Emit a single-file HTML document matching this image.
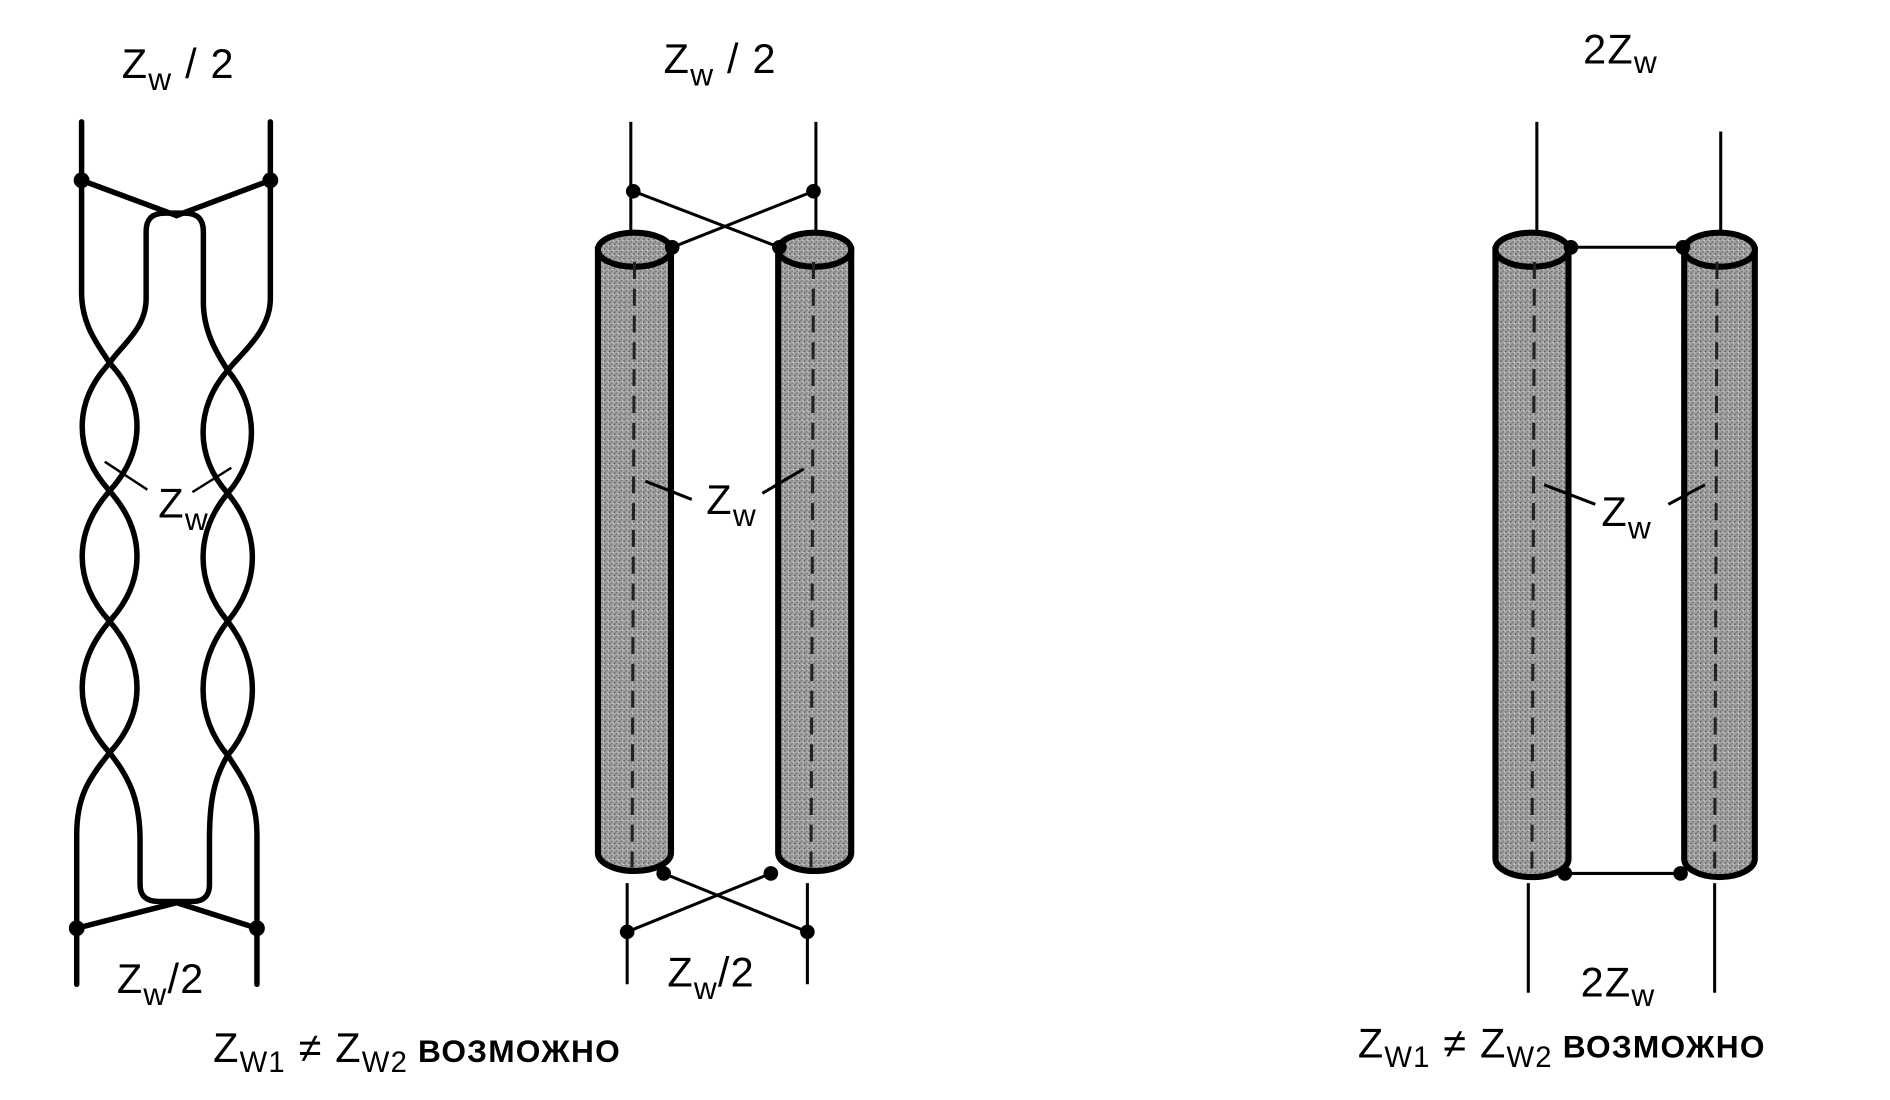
<!DOCTYPE html>
<html><head><meta charset="utf-8"><style>html,body{margin:0;padding:0;background:#fff;width:1890px;height:1100px;overflow:hidden}svg{display:block}</style></head>
<body>
<svg width="1890" height="1100" viewBox="0 0 1552 903" preserveAspectRatio="none" xmlns="http://www.w3.org/2000/svg" font-family="Liberation Sans, DejaVu Sans, sans-serif">
<defs>
<pattern id="st" width="4" height="4" patternUnits="userSpaceOnUse"><rect width="4" height="4" fill="#a2a2a2"/><rect x="0" y="0" width="1" height="1" fill="#444"/><rect x="2" y="2" width="1" height="1" fill="#666"/><rect x="3" y="1" width="1" height="1" fill="#ddd"/><rect x="1" y="3" width="1" height="1" fill="#777"/></pattern>
</defs>
<g fill="none" stroke="#000" stroke-width="4.5" stroke-linecap="round" stroke-linejoin="round">
<path d="M67,100 L67,240 C67,268 82,285 90,298 C120,330 120,370 90,403 C60,437 60,477 90,510 C120,545 120,585 90,618 C72,640 63,655 63,685 L63,808"/>
<path d="M90,298 C100,283 120,270 120,245 L120,190 Q120,175 135,175 L152,175 Q167,175 167,190 L167,248 C167,272 178,290 187,304 C213,335 213,375 187,405 C160,437 160,478 187,510 C214,545 214,588 187,620 C175,640 172,660 172,690 L172,726 Q172,740 158,740 L130,740 Q115,740 115,726 L115,690 C115,660 108,640 90,618 C60,585 60,545 90,510 C120,477 120,437 90,403 C60,370 60,330 90,298"/>
<path d="M222,100 L222,245 C222,272 198,290 187,304 C160,335 160,375 187,405 C214,437 214,478 187,510 C160,545 160,588 187,620 C200,640 211,655 211,685 L211,808"/>
<line x1="67" y1="148" x2="145" y2="177"/><line x1="222" y1="148" x2="145" y2="177"/>
<line x1="63" y1="762" x2="145" y2="741"/><line x1="211" y1="762" x2="145" y2="741"/>
</g>
<g fill="#000"><circle cx="67" cy="148" r="6.5"/><circle cx="222" cy="148" r="6.5"/><circle cx="63" cy="762" r="6.5"/><circle cx="211" cy="762" r="6.5"/></g>
<g stroke="#000" stroke-width="2"><line x1="86" y1="379" x2="121" y2="402"/><line x1="190" y1="384" x2="158" y2="404"/></g>

<g stroke="#000" stroke-width="2.5" fill="none">
<line x1="518" y1="100" x2="518" y2="200"/><line x1="670" y1="100" x2="670" y2="200"/>
<line x1="515" y1="725" x2="515" y2="808"/><line x1="663" y1="725" x2="663" y2="808"/>
</g>
<g stroke="#000" stroke-width="5" fill="url(#st)">
<path d="M491,205 L491,700 A30,15 0 0 0 551,700 L551,205 Z"/>
<ellipse cx="521" cy="205" rx="30" ry="14"/>
<path d="M639,205 L639,700 A30,15 0 0 0 699,700 L699,205 Z"/>
<ellipse cx="669" cy="205" rx="30" ry="14"/>
</g>
<g stroke="#222" stroke-width="2.5" stroke-dasharray="14,8"><line x1="521" y1="215" x2="519" y2="712"/><line x1="668" y1="215" x2="666" y2="712"/></g>
<g stroke="#000" stroke-width="2.5">
<line x1="520" y1="157" x2="640" y2="203"/><line x1="668" y1="157" x2="552" y2="203"/>
<line x1="545" y1="717" x2="663" y2="765"/><line x1="633" y1="717" x2="515" y2="765"/>
<line x1="530" y1="395" x2="568" y2="410"/><line x1="660" y1="385" x2="626" y2="405"/>
</g>
<g fill="#000"><circle cx="520" cy="157" r="6"/><circle cx="668" cy="157" r="6"/><circle cx="552" cy="203" r="6"/><circle cx="640" cy="203" r="6"/><circle cx="545" cy="717" r="6"/><circle cx="633" cy="717" r="6"/><circle cx="515" cy="765" r="6"/><circle cx="663" cy="765" r="6"/></g>

<g stroke="#000" stroke-width="2.5" fill="none">
<line x1="1262" y1="100" x2="1262" y2="200"/><line x1="1413" y1="108" x2="1413" y2="200"/>
<line x1="1255" y1="725" x2="1255" y2="815"/><line x1="1408" y1="725" x2="1408" y2="815"/>
</g>
<g stroke="#000" stroke-width="5" fill="url(#st)">
<path d="M1228,205 L1228,705 A30,15 0 0 0 1288,705 L1288,205 Z"/>
<ellipse cx="1258" cy="205" rx="30" ry="14"/>
<path d="M1383,205 L1383,705 A29,15 0 0 0 1441,705 L1441,205 Z"/>
<ellipse cx="1412" cy="205" rx="29" ry="14"/>
</g>
<g stroke="#222" stroke-width="2.5" stroke-dasharray="14,8"><line x1="1260" y1="215" x2="1258" y2="715"/><line x1="1410" y1="215" x2="1408" y2="715"/></g>
<g stroke="#000" stroke-width="2.5">
<line x1="1290" y1="203" x2="1382" y2="203"/><line x1="1285" y1="717" x2="1380" y2="717"/>
<line x1="1268" y1="398" x2="1310" y2="414"/><line x1="1400" y1="398" x2="1370" y2="414"/>
</g>
<g fill="#000"><circle cx="1290" cy="203" r="6"/><circle cx="1382" cy="203" r="6"/><circle cx="1285" cy="717" r="6"/><circle cx="1380" cy="717" r="6"/></g>

<g fill="#000" font-size="34" letter-spacing="1">
<text x="100" y="64">Z<tspan font-size="26" dy="10">w</tspan><tspan dy="-10"> / 2</tspan></text>
<text x="545" y="60">Z<tspan font-size="26" dy="10">w</tspan><tspan dy="-10"> / 2</tspan></text>
<text x="1300" y="52">2Z<tspan font-size="26" dy="8">w</tspan></text>
<text x="130" y="425">Z<tspan font-size="26" dy="10">w</tspan></text>
<text x="580" y="422">Z<tspan font-size="26" dy="10">w</tspan></text>
<text x="1315" y="432">Z<tspan font-size="26" dy="10">w</tspan></text>
<text x="96" y="815">Z<tspan font-size="26" dy="10">w</tspan><tspan dy="-10">/2</tspan></text>
<text x="548" y="810">Z<tspan font-size="26" dy="10">w</tspan><tspan dy="-10">/2</tspan></text>
<text x="1298" y="818">2Z<tspan font-size="26" dy="8">w</tspan></text>
<text x="175" y="872">Z<tspan font-size="24" dy="8">W1</tspan><tspan dy="-8"> ≠ Z</tspan><tspan font-size="24" dy="8">W2</tspan><tspan dy="-8" font-size="26" font-weight="bold"> ВОЗМОЖНО</tspan></text>
<text x="1115" y="868">Z<tspan font-size="24" dy="8">W1</tspan><tspan dy="-8"> ≠ Z</tspan><tspan font-size="24" dy="8">W2</tspan><tspan dy="-8" font-size="26" font-weight="bold"> ВОЗМОЖНО</tspan></text>
</g>
</svg>
</body></html>
